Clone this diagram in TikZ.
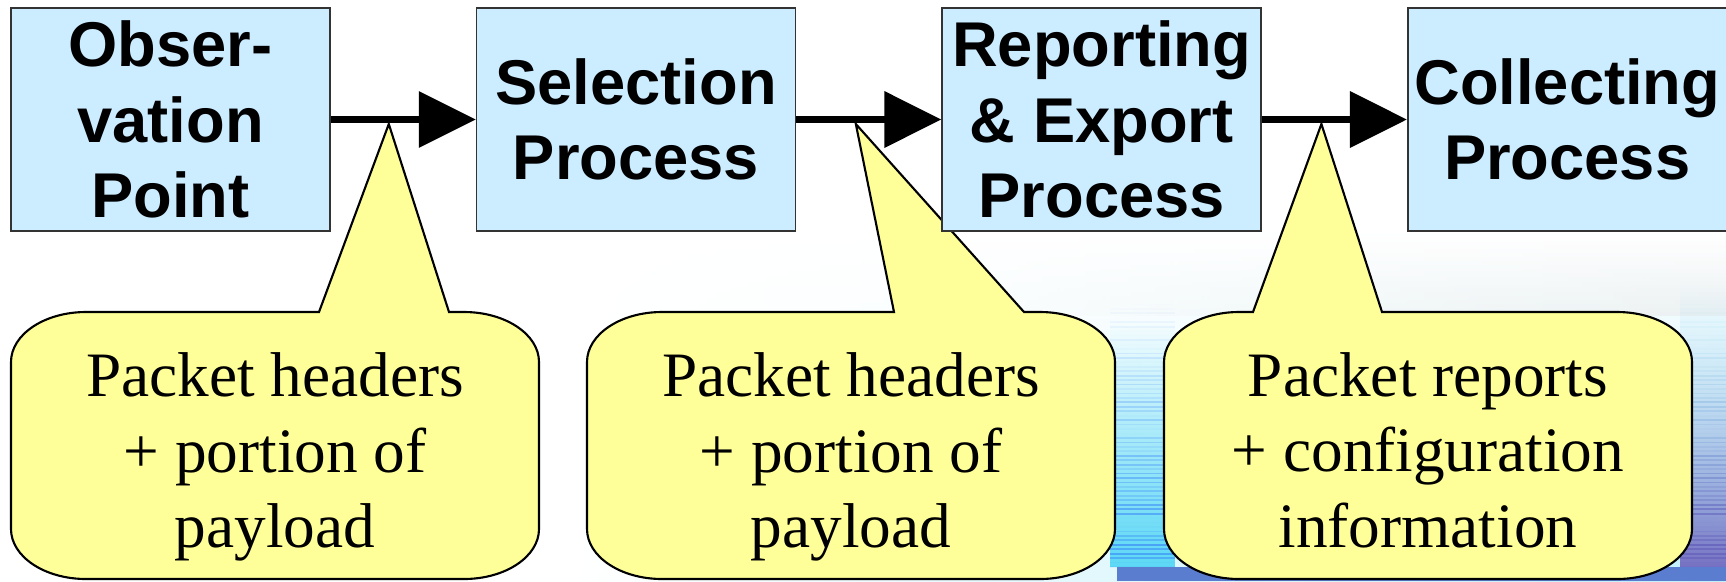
\documentclass[tikz,border=0pt]{standalone}
\usepackage{fontspec}
\setmainfont{Liberation Serif}
\setsansfont{Liberation Sans}
\usetikzlibrary{positioning,arrows.meta,calc,fadings,backgrounds}

\definecolor{procblue}{HTML}{CCECFF}
\definecolor{notefill}{HTML}{FFFF99}
\definecolor{slideblue}{HTML}{5B7DD0}
\definecolor{streakcyan}{HTML}{5CD8F5}
\definecolor{streakviolet}{HTML}{5E58B8}

\tikzfading[name=fromleft, left color=transparent!100, right color=transparent!0]
\tikzfading[name=fromtop, top color=transparent!100, bottom color=transparent!0]

\begin{document}
\begin{tikzpicture}[
  proc/.style={draw=black!80, line width=0.9pt, fill=procblue, minimum width=6.38cm,
    minimum height=4.46cm, inner sep=2pt, align=center,
    font=\sffamily\bfseries\fontsize{36}{43}\selectfont},
  note/.style={draw=black, line width=1.2pt, fill=notefill},
  notetxt/.style={align=center, font=\fontsize{36}{43}\selectfont},
  flow/.style={line width=4pt, -{Triangle[length=1.14cm, width=1.1cm]}},
]
\useasboundingbox (0,0) rectangle (34.52,-11.62);

% ====== Process chain ======
\node[proc] (obs) at (3.41,-2.39) {Obser-\\vation\\Point};
\node[proc, right=2.9cm of obs] (sel) {Selection\\Process};
\node[proc, right=2.9cm of sel] (rep) {Reporting\\\& Export\\Process};
\node[proc, right=2.9cm of rep] (col) {Collecting\\Process};

\draw[flow] (obs) -- (sel);
\draw[flow] (sel) -- (rep);
\draw[flow] (rep) -- (col);

% wedge tips sit just under the arrows
\coordinate (w1) at ($(obs.east)!0.4!(sel.west)+(0,-0.09)$);
\coordinate (w2) at ($(sel.east)!0.41!(rep.west)+(0,-0.09)$);
\coordinate (w3) at ($(rep.east)!0.41!(col.west)+(0,-0.09)$);

\begin{scope}[on background layer]
  % ====== slide backdrop, lower right ======
  \shade[top color=white, bottom color=streakcyan!40, path fading=fromleft]
    (11.5,-4.6) rectangle (34.52,-11.62);
  \shade[top color=white, bottom color=black!8, path fading=fromleft, opacity=0.6]
    (19,-4.7) rectangle (34.52,-6.3);
  \fill[streakcyan, path fading=fromtop] (22.2,-6.4) rectangle (23.5,-11.34);
  \shade[top color=streakcyan!50, bottom color=streakviolet!85, path fading=fromtop]
    (33.6,-5.6) rectangle (34.52,-11.34);
  \pgfmathsetseed{12}
  \foreach \i in {0,...,60} {
    \pgfmathsetmacro{\yy}{-6.0-\i*0.089}
    \pgfmathsetmacro{\op}{0.7*(\i/60)*rnd}
    \pgfmathsetmacro{\pc}{min(100,\i*2)}
    \draw[streakcyan!60!blue, opacity=\op, line width=1pt] (22.2,\yy) -- (23.5,\yy);
    \draw[streakviolet!\pc!streakcyan, opacity=\op, line width=1pt] (33.6,\yy) -- (34.52,\yy);
  }
  \fill[slideblue] (22.34,-11.34) rectangle (34.52,-11.62);

  % ====== Callouts ======
  \foreach \lx/\ba/\bb/\tip in {0.22/6.16/8.76/w1, 11.74/6.14/8.74/w2, 23.28/1.78/4.36/w3} {
    \draw[note] (\lx+\ba,-6.24) -- (\tip) -- (\lx+\bb,-6.24) -- (\lx+9.06,-6.24)
      arc[start angle=90, end angle=0, x radius=1.5, y radius=1] -- (\lx+10.56,-10.58)
      arc[start angle=0, end angle=-90, x radius=1.5, y radius=1] -- (\lx+1.5,-11.58)
      arc[start angle=-90, end angle=-180, x radius=1.5, y radius=1] -- (\lx,-7.24)
      arc[start angle=180, end angle=90, x radius=1.5, y radius=1] -- cycle;
  }
  \node[notetxt] (n1) at (5.5,-9.14) {Packet headers\\+ portion of\\payload};
  \node[notetxt] (n2) at (17.02,-9.14) {Packet headers\\+ portion of\\payload};
  \node[notetxt] (n3) at (28.56,-9.0) {Packet reports\\+ configuration\\information};
\end{scope}

\end{tikzpicture}
\end{document}
